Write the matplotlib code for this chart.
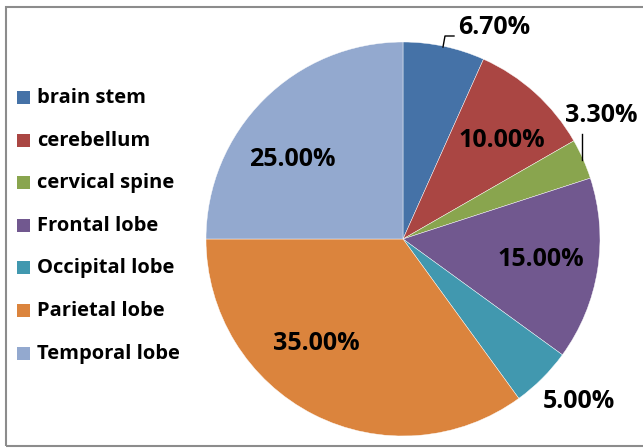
import matplotlib.pyplot as plt
from matplotlib.patches import Rectangle

categories = ["brain stem", "cerebellum", "cervical spine", "Frontal lobe",
              "Occipital lobe", "Parietal lobe", "Temporal lobe"]
values = [6.7, 10.0, 3.3, 15.0, 5.0, 35.0, 25.0]
labels = ["6.70%", "10.00%", "3.30%", "15.00%", "5.00%", "35.00%", "25.00%"]
colors = ["#4572A7", "#AA4643", "#89A54E", "#71588F", "#4198AF", "#DB843D", "#93A9CF"]

W, H = 643, 448
fig = plt.figure(figsize=(W / 100, H / 100), dpi=100)
ax = fig.add_axes([0, 0, 1, 1])

font = ["Open Sans", "DejaVu Sans"]

# pie, center and radius in pixels (y from bottom)
cx, cy, r = 403, H - 239, 197
wedges, _ = ax.pie(values, colors=colors, startangle=90, counterclock=False,
                   center=(cx, cy), radius=r, frame=True,
                   wedgeprops=dict(edgecolor="white", linewidth=0.3))
ax.set_xlim(0, W)
ax.set_ylim(0, H)
ax.axis("off")

# label positions (pixel coords from top-left)
label_pos = [(494, 27), (502, 140), (601, 115), (541, 259), (579, 402), (316, 343), (292, 159)]
for lab, (x, y) in zip(labels, label_pos):
    ax.text(x, H - y, lab, ha="center", va="center", fontsize=18,
            fontweight="bold", family=font, color="black")

# leader lines
ax.plot([443, 445, 454], [H - 47, H - 36, H - 36], color="black", lw=1)
ax.plot([582, 582], [H - 160, H - 134], color="black", lw=1)

# legend
for i, (cat, col) in enumerate(zip(categories, colors)):
    yc = 98 + i * 42.6
    ax.add_patch(Rectangle((17, H - yc - 6), 13, 13, facecolor=col, edgecolor="none"))
    ax.text(37, H - yc, cat, ha="left", va="center", fontsize=14.5,
            fontweight="bold", family=font, color="black")

# chart border
ax.add_patch(Rectangle((6, 2), W, H - 9, facecolor="none", edgecolor="#8C8C8C", lw=1.5))

fig.savefig("out.png", dpi=100)
